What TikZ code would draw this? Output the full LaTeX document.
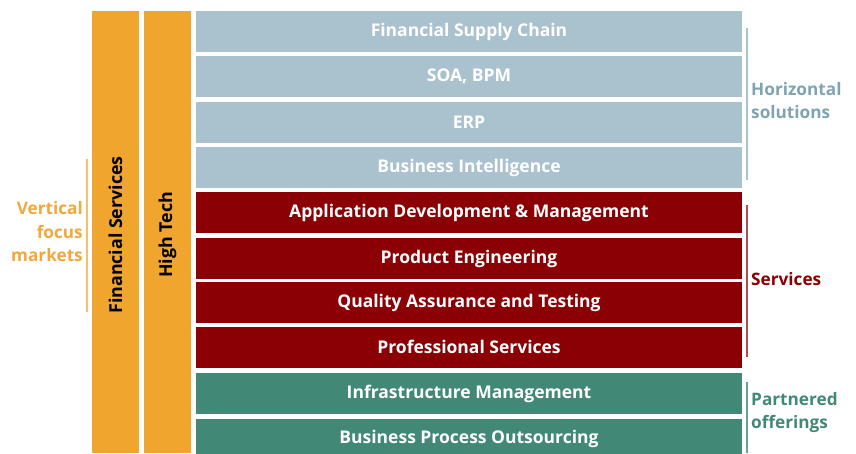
\documentclass[tikz,border=0pt]{standalone}
\usepackage{fontspec}
\setmainfont{Open Sans}
\definecolor{hblue}{HTML}{AAC2CE}
\definecolor{hbluetxt}{HTML}{7FA3B3}
\definecolor{sred}{HTML}{8A0004}
\definecolor{pgreen}{HTML}{428876}
\definecolor{vorange}{HTML}{F0A52E}
\definecolor{vorangetxt}{HTML}{F0A83C}
\begin{document}
\begin{tikzpicture}[x=1pt,y=-1pt,
  rowbox/.style={rectangle,inner sep=0pt,minimum width=546pt,minimum height=41pt,text=white,font=\fontsize{17.5}{19}\selectfont\bfseries},
  vbar/.style={rectangle,inner sep=0pt,fill=vorange,minimum width=47pt,minimum height=442pt},
  vtext/.style={rotate=90,inner sep=0pt,font=\fontsize{17.8}{19}\selectfont\bfseries},
  sidelabel/.style={font=\fontsize{17.2}{23}\selectfont\bfseries,align=left,anchor=west,inner sep=0pt}]
\useasboundingbox (0,0) rectangle (856,453);
\clip (0,0) rectangle (856,453);
% vertical market bars
\node[vbar] (fs) at (115.5,232) {};
\node[vtext] (fst) at ([yshift=-3pt]fs.center) {Financial Services};
\node[vbar] (ht) at (167.5,232) {};
\node[vtext] (htt) at ([yshift=-3pt]ht.center) {High Tech};
% rows
\node[rowbox,fill=hblue] (r1) at (469,31.5) {Financial Supply Chain};
\node[rowbox,fill=hblue] (r2) at (469,76.5) {SOA, BPM};
\node[rowbox,fill=hblue] (r3) at (469,122.5) {ERP};
\node[rowbox,fill=hblue] (r4) at (469,167.5) {Business Intelligence};
\node[rowbox,fill=sred] (r5) at (469,212.5) {Application Development \& Management};
\node[rowbox,fill=sred] (r6) at (469,258.5) {Product Engineering};
\node[rowbox,fill=sred] (r7) at (469,302.5) {Quality Assurance and Testing};
\node[rowbox,fill=sred] (r8) at (469,347) {Professional Services};
\node[rowbox,fill=pgreen] (r9) at (469,393.5) {Infrastructure Management};
\node[rowbox,fill=pgreen] (r10) at (469,439) {Business Process Outsourcing};
% right brackets
\coordinate (h1) at (747,28); \coordinate (h2) at (747,180);
\draw[hblue,line width=1.2pt] (h1) -- (h2);
\coordinate (s1) at (747,205); \coordinate (s2) at (747,357);
\draw[sred!70,line width=1.2pt] (s1) -- (s2);
\coordinate (p1) at (747,382); \coordinate (p2) at (747,453);
\draw[pgreen!80,line width=1.2pt] (p1) -- (p2);
\node[sidelabel,text=hbluetxt] (hl) at (751,101) {Horizontal\\solutions};
\node[sidelabel,text=sred] (sl) at (751,279) {Services};
\node[sidelabel,text=pgreen] (pl) at (751,413) {Partnered\\offerings};
% left bracket
\coordinate (v1) at (87,159); \coordinate (v2) at (87,312);
\draw[vorange!70,line width=1.2pt] (v1) -- (v2);
\node[font=\fontsize{17.2}{23.5}\selectfont\bfseries,align=right,anchor=east,inner sep=0pt,text=vorangetxt] (vl) at (83,232) {Vertical\\focus\\markets};
\end{tikzpicture}
\end{document}
